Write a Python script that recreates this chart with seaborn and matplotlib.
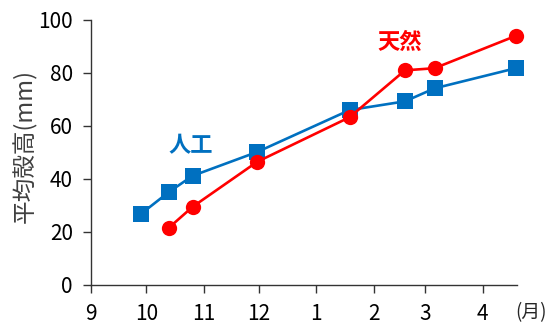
import matplotlib
matplotlib.use("Agg")
import matplotlib.pyplot as plt
import matplotlib.dates as mdates
import pandas as pd
import seaborn as sns

# Sampling dates and mean shell height (mm)
artificial_dates = ["2014-09-28", "2014-10-13", "2014-10-26", "2014-11-30",
                    "2015-01-19", "2015-02-18", "2015-03-06", "2015-04-19"]
artificial_height = [26.8, 35.0, 41.2, 50.2, 66.0, 69.3, 74.2, 81.8]

natural_dates = ["2014-10-13", "2014-10-26", "2014-11-30", "2015-01-19",
                 "2015-02-18", "2015-03-06", "2015-04-19"]
natural_height = [21.5, 29.5, 46.5, 63.3, 81.0, 81.8, 94.0]

series_names = ["人工", "天然"]
series_colors = ["#0070C0", "#FF0000"]
series_markers = ["s", "o"]

y_ticks = [0, 20, 40, 60, 80, 100]

df = pd.concat([
    pd.DataFrame({"date": pd.to_datetime(artificial_dates),
                  "height": artificial_height, "group": series_names[0]}),
    pd.DataFrame({"date": pd.to_datetime(natural_dates),
                  "height": natural_height, "group": series_names[1]}),
], ignore_index=True)

sns.set_style("ticks")
plt.rcParams["font.family"] = ["Noto Sans CJK JP", "DejaVu Sans"]

fig = plt.figure(figsize=(5.5, 3.26), dpi=100)
ax = fig.add_axes([0.1655, 0.1258, 0.774, 0.8129])

sns.lineplot(data=df, x="date", y="height", hue="group", style="group",
             palette=dict(zip(series_names, series_colors)),
             markers=dict(zip(series_names, series_markers)),
             dashes=False, markersize=11, markeredgewidth=0, linewidth=1.9,
             legend=False, ax=ax, clip_on=False)

ax.set_ylim(0, 100)
ax.set_yticks(y_ticks)
ax.set_xlim(pd.Timestamp("2014-09-01"), pd.Timestamp("2015-04-19 12:00"))
ax.xaxis.set_major_locator(mdates.MonthLocator())
ax.xaxis.set_major_formatter(mdates.DateFormatter("%-m"))

ax.set_xlabel("")
ax.set_ylabel("平均殻高(mm)", fontsize=17, color="#404040")
ax.yaxis.set_label_coords(-0.127, 0.525)

for side in ("top", "right"):
    ax.spines[side].set_visible(False)
for side in ("left", "bottom"):
    ax.spines[side].set_color("#333333")
    ax.spines[side].set_linewidth(1.0)

ax.tick_params(axis="both", length=6, width=1.0, color="#333333",
               labelsize=15, labelcolor="black")
ax.tick_params(axis="x", pad=7)
ax.tick_params(axis="y", pad=7)

ax.text(0.966, 0.04, "(月)", transform=fig.transFigure, fontsize=13.5,
        ha="center", va="center")

ax.text(pd.Timestamp("2014-10-25"), 52.5, series_names[0], color=series_colors[0],
        fontsize=16, fontweight="bold", ha="center", va="center")
ax.text(pd.Timestamp("2015-02-15"), 91.5, series_names[1], color=series_colors[1],
        fontsize=16, fontweight="bold", ha="center", va="center")

fig.savefig("out.png", dpi=100)
